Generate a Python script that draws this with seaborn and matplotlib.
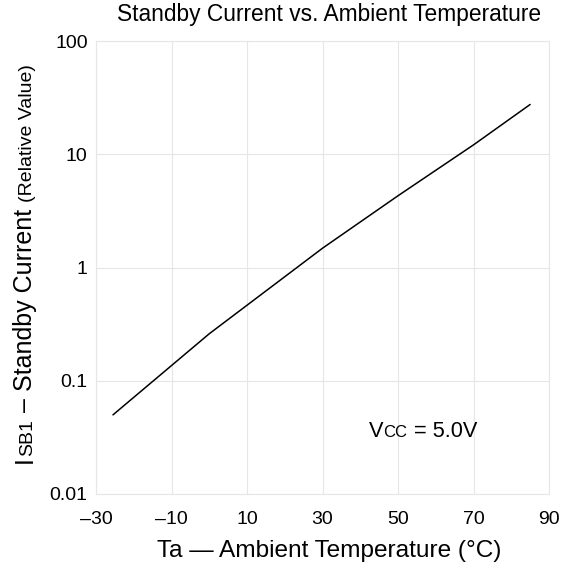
import matplotlib
matplotlib.use("Agg")
import matplotlib.pyplot as plt
import seaborn as sns
import pandas as pd

# ---- data ----
temperature = [-25.5, 0, 30, 50, 70, 85]
standby_current = [0.05, 0.26, 1.48, 4.3, 12.1, 27.5]
x_ticks = [-30, -10, 10, 30, 50, 70, 90]
x_tick_labels = ["\u201330", "\u201310", "10", "30", "50", "70", "90"]
y_ticks = [0.01, 0.1, 1, 10, 100]
y_tick_labels = ["0.01", "0.1", "1", "10", "100"]

sns.set_theme(style="whitegrid")
FONT = ["Liberation Sans", "DejaVu Sans"]
plt.rcParams["font.family"] = FONT
plt.rcParams["text.color"] = "black"

df = pd.DataFrame({"T": temperature, "I": standby_current})

W, H, DPI = 5.76, 5.69, 100
fig = plt.figure(figsize=(W, H), dpi=DPI)
ax = fig.add_axes([96 / 576, 75 / 569, 453 / 576, 453 / 569])

sns.lineplot(data=df, x="T", y="I", ax=ax, color="black", linewidth=1.1)
ax.set_yscale("log")
ax.set_xlim(-30, 90)
ax.set_ylim(0.01, 100)
ax.set_xticks(x_ticks)
ax.set_xticklabels(x_tick_labels)
ax.set_yticks(y_ticks)
ax.set_yticklabels(y_tick_labels)
ax.minorticks_off()
ax.tick_params(axis="both", length=0, labelsize=14, colors="black")
ax.tick_params(axis="x", pad=12)
ax.tick_params(axis="y", pad=6)
ax.grid(True, color="#e6e6e6", linewidth=0.8)
for sp in ax.spines.values():
    sp.set_color("#e6e6e6")
    sp.set_linewidth(0.8)
ax.set_xlabel("")
ax.set_ylabel("")

# title and x label
fig.text(329 / 576, 1 - 21 / 569, "Standby Current vs. Ambient Temperature",
         ha="center", va="baseline", fontsize=16.4, family=FONT, color="black")
fig.text(329 / 576, 1 - 557 / 569, "Ta \u2014 Ambient Temperature (\u00b0C)",
         ha="center", va="baseline", fontsize=17.6, family=FONT, color="black")

renderer = fig.canvas.get_renderer()


def rich(pieces, x_px, y_px, rotation=0):
    """Place text pieces of differing sizes along one baseline."""
    texts = []
    for s, size in pieces:
        t = fig.text(0, 0, s, fontsize=size, family=FONT, rotation=rotation,
                     rotation_mode="anchor", ha="left", va="baseline",
                     color="black")
        texts.append(t)
    lengths = []
    for t in texts:
        bb = t.get_window_extent(renderer)
        lengths.append(bb.height if rotation == 90 else bb.width)
    pos = 0
    for t, L in zip(texts, lengths):
        if rotation == 90:
            t.set_position((x_px / (W * DPI), (y_px + pos) / (H * DPI)))
        else:
            t.set_position(((x_px + pos) / (W * DPI), y_px / (H * DPI)))
        pos += L
    return texts


# y label: I_SB1 – Standby Current (Relative Value)
rich([("I", 18), ("SB1", 14), (" \u2013 Standby Current ", 18), ("(Relative Value)", 14)],
     32, 569 - 463, rotation=90)

# Vcc annotation
rich([("V", 15.7), ("CC", 12), (" = 5.0V", 15.7)], 369, 569 - 437)

fig.savefig("out.png", dpi=DPI)
